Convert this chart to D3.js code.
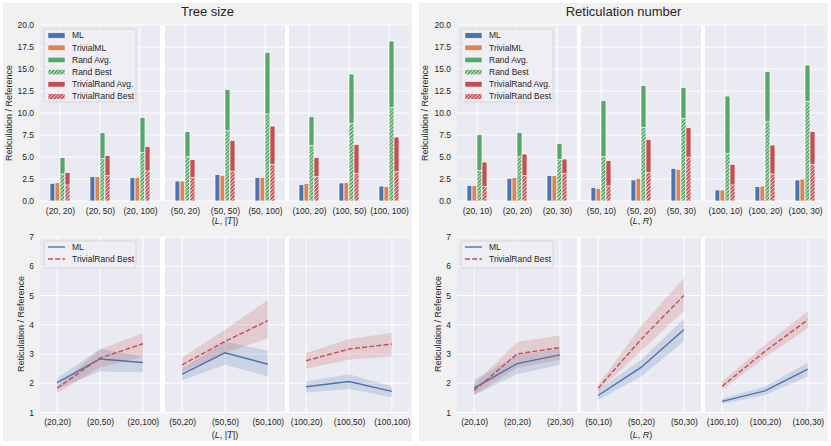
<!DOCTYPE html>
<html>
<head>
<meta charset="utf-8">
<script src="https://cdn.jsdelivr.net/npm/d3@7"></script>
<style>
  body { margin: 0; background: #fff; }
  text { font-family: "Liberation Sans", Arial, sans-serif; fill: #262626; }
  .tick text { font-size: 8.5px; fill: #262626; }
</style>
</head>
<body>
<div id="chart"></div>
<script>
// bar charts (top row)
const treeLabels = ["(20, 20)", "(20, 50)", "(20, 100)", "(50, 20)", "(50, 50)", "(50, 100)", "(100, 20)", "(100, 50)", "(100, 100)"];
const treeML = [2.01, 2.76, 2.65, 2.27, 2.99, 2.65, 1.85, 2.05, 1.70];
const treeTrivialML = [2.08, 2.76, 2.69, 2.27, 2.92, 2.69, 2.01, 2.08, 1.63];
const treeRandAvg = [4.92, 7.76, 9.47, 7.88, 12.65, 16.9, 9.58, 14.43, 18.18];
const treeRandBest = [3.07, 4.85, 5.49, 5.03, 7.99, 9.89, 6.33, 8.83, 10.65];
const treeTrivialRandAvg = [3.26, 5.15, 6.17, 4.69, 6.85, 8.52, 4.92, 6.4, 7.27];
const treeTrivialRandBest = [1.82, 2.88, 3.41, 2.69, 3.38, 4.17, 2.76, 3.15, 3.33];

const reticLabels = ["(20, 10)", "(20, 20)", "(20, 30)", "(50, 10)", "(50, 20)", "(50, 30)", "(100, 10)", "(100, 20)", "(100, 30)"];
const reticML = [1.74, 2.58, 2.88, 1.52, 2.39, 3.71, 1.25, 1.63, 2.39];
const reticTrivialML = [1.74, 2.65, 2.88, 1.44, 2.58, 3.6, 1.25, 1.7, 2.5];
const reticRandAvg = [7.53, 7.8, 6.55, 11.4, 13.1, 12.9, 11.93, 14.7, 15.45];
const reticRandBest = [3.45, 5.03, 4.73, 5.03, 8.37, 9.4, 5.42, 9.0, 11.3];
const reticTrivialRandAvg = [4.43, 5.34, 4.77, 4.58, 7.0, 8.33, 4.17, 6.36, 7.88];
const reticTrivialRandBest = [1.63, 2.88, 3.14, 1.7, 3.22, 4.97, 1.82, 3.07, 4.17];

// line charts (bottom row)
const treeLineLabels = ["(20,20)", "(20,50)", "(20,100)", "(50,20)", "(50,50)", "(50,100)", "(100,20)", "(100,50)", "(100,100)"];
const treeLineML = [2.02, 2.83, 2.71, 2.31, 3.04, 2.65, 1.88, 2.06, 1.72];
const treeLineMLLow = [1.82, 2.4, 2.38, 2.1, 2.63, 2.23, 1.68, 1.8, 1.52];
const treeLineMLHigh = [2.17, 3.17, 2.92, 2.5, 3.43, 3.11, 2.06, 2.31, 1.89];
const treeLineTR = [1.83, 2.86, 3.35, 2.63, 3.43, 4.14, 2.77, 3.17, 3.34];
const treeLineTRLow = [1.66, 2.55, 2.9, 2.4, 3.03, 3.54, 2.5, 2.8, 2.92];
const treeLineTRHigh = [1.9, 3.15, 3.72, 2.88, 3.83, 4.85, 3.03, 3.51, 3.72];

const reticLineLabels = ["(20,10)", "(20,20)", "(20,30)", "(50,10)", "(50,20)", "(50,30)", "(100,10)", "(100,20)", "(100,30)"];
const reticLineML = [1.83, 2.67, 2.97, 1.58, 2.54, 3.83, 1.38, 1.74, 2.48];
const reticLineMLLow = [1.6, 2.31, 2.63, 1.43, 2.23, 3.43, 1.3, 1.6, 2.23];
const reticLineMLHigh = [2.12, 2.97, 3.18, 1.77, 2.8, 4.2, 1.47, 1.89, 2.71];
const reticLineTR = [1.75, 3.0, 3.22, 1.83, 3.5, 5.0, 1.9, 3.09, 4.17];
const reticLineTRLow = [1.6, 2.52, 2.8, 1.72, 3.1, 4.48, 1.77, 2.88, 3.89];
const reticLineTRHigh = [1.95, 3.41, 3.63, 1.95, 3.95, 5.6, 2.06, 3.32, 4.46];

const barTicks = [0, 2.5, 5, 7.5, 10, 12.5, 15, 17.5, 20];
const lineTicks = [1, 2, 3, 4, 5, 6, 7];

const blue = "#4c72b0", orange = "#dd8452", green = "#55a868", red = "#c44e52";

const W = 831, H = 446;
const svg = d3.select("#chart").append("svg")
  .attr("width", W).attr("height", H);

// hatch patterns
const defs = svg.append("defs");
[["hatch-green", green], ["hatch-red", red]].forEach(([id, c]) => {
  const p = defs.append("pattern")
    .attr("id", id)
    .attr("patternUnits", "userSpaceOnUse")
    .attr("width", 3.6).attr("height", 3.6);
  p.append("rect").attr("width", 3.6).attr("height", 3.6).attr("fill", c);
  p.append("path")
    .attr("d", "M-0.9,0.9 l1.8,-1.8 M0,3.6 l3.6,-3.6 M2.7,4.5 l1.8,-1.8")
    .attr("stroke", "#fff").attr("stroke-width", 0.9);
});

const yTop = d3.scaleLinear().domain([0, 20]).range([201, 25]);
const yBot = d3.scaleLinear().domain([1, 7]).range([412.5, 237]);

const panels = [
  {
    bx: 3, bw: 409, title: "Tree size", x0s: [40, 165, 289],
    labels: treeLabels,
    bars: [treeML, treeTrivialML, treeRandAvg, treeRandBest, treeTrivialRandAvg, treeTrivialRandBest],
    lineLabels: treeLineLabels,
    ml: [treeLineML, treeLineMLLow, treeLineMLHigh],
    tr: [treeLineTR, treeLineTRLow, treeLineTRHigh],
    xlab: "T", ylabTop: 9, ylabBot: 21
  },
  {
    bx: 419, bw: 409, title: "Reticulation number", x0s: [457, 581, 705],
    labels: reticLabels,
    bars: [reticML, reticTrivialML, reticRandAvg, reticRandBest, reticTrivialRandAvg, reticTrivialRandBest],
    lineLabels: reticLineLabels,
    ml: [reticLineML, reticLineMLLow, reticLineMLHigh],
    tr: [reticLineTR, reticLineTRLow, reticLineTRHigh],
    xlab: "R", ylabTop: 425, ylabBot: 438
  }
];
const aw = 120;

function xLabel(g, x, y, kind) {
  const t = g.append("text").attr("x", x).attr("y", y)
    .attr("text-anchor", "middle").attr("font-size", "9px");
  t.append("tspan").text("(");
  t.append("tspan").attr("font-style", "italic").text("L");
  if (kind === "T") {
    t.append("tspan").text(", |");
    t.append("tspan").attr("font-style", "italic").attr("font-family", "DejaVu Serif, serif").text("T");
    t.append("tspan").text("|)");
  } else {
    t.append("tspan").text(", ");
    t.append("tspan").attr("font-style", "italic").text("R");
    t.append("tspan").text(")");
  }
}

function yLabel(g, x, y) {
  g.append("text")
    .attr("transform", `translate(${x},${y}) rotate(-90)`)
    .attr("text-anchor", "middle").attr("dy", "0.35em")
    .attr("font-size", "9px")
    .text("Reticulation / Reference");
}

panels.forEach(p => {
  const g = svg.append("g");
  g.append("rect").attr("x", p.bx).attr("y", 3).attr("width", p.bw).attr("height", 438)
    .attr("fill", "#f1f1f1");
  g.append("text").attr("x", p.bx + p.bw / 2).attr("y", 15.5)
    .attr("text-anchor", "middle").attr("font-size", "13px").text(p.title);

  // ---------- bars ----------
  g.append("rect").attr("x", p.x0s[0]).attr("y", 25)
    .attr("width", p.x0s[2] + aw - p.x0s[0]).attr("height", 176).attr("fill", "#fff");
  p.x0s.forEach((x0, i) => {
    const cats = p.labels.slice(i * 3, i * 3 + 3);
    const x = d3.scalePoint().domain(cats).range([x0, x0 + aw]).padding(0.5);
    const bw = x.step() * 0.125;
    const sub = g.append("g");
    sub.append("rect").attr("x", x0).attr("y", 25).attr("width", aw).attr("height", 176)
      .attr("fill", "#eaeaf2");
    barTicks.forEach(t => sub.append("line")
      .attr("x1", x0).attr("x2", x0 + aw).attr("y1", yTop(t)).attr("y2", yTop(t))
      .attr("stroke", "#fff").attr("stroke-width", 1));
    cats.forEach(c => sub.append("line")
      .attr("x1", x(c)).attr("x2", x(c)).attr("y1", 25).attr("y2", 201)
      .attr("stroke", "#fff").attr("stroke-width", 1));

    const series = [
      { v: p.bars[0], k: 0, fill: blue },
      { v: p.bars[1], k: 1, fill: orange },
      { v: p.bars[2], k: 2, fill: green },
      { v: p.bars[3], k: 2, fill: "url(#hatch-green)" },
      { v: p.bars[4], k: 3, fill: red },
      { v: p.bars[5], k: 3, fill: "url(#hatch-red)" }
    ];
    series.forEach(s => {
      sub.selectAll(null).data(cats.map((c, j) => ({ c, v: s.v[i * 3 + j] })))
        .join("rect")
        .attr("x", d => x(d.c) + (s.k - 2) * bw)
        .attr("y", d => yTop(d.v))
        .attr("width", bw)
        .attr("height", d => yTop(0) - yTop(d.v))
        .attr("fill", s.fill)
        .attr("stroke", "#fff").attr("stroke-width", 0.7);
    });

    sub.append("g").attr("transform", `translate(0,201)`)
      .call(d3.axisBottom(x).tickSize(0).tickPadding(6.5))
      .call(a => a.select(".domain").remove());
    if (i === 0) {
      sub.append("g").attr("transform", `translate(${x0},0)`)
        .call(d3.axisLeft(yTop).tickValues(barTicks).tickFormat(d3.format(".1f")).tickSize(0).tickPadding(6))
        .call(a => a.select(".domain").remove());
    }
    if (i === 1) xLabel(g, x(cats[1]), 224, p.xlab);
  });
  yLabel(g, p.ylabTop, 113);

  // bar legend
  const lx = p.x0s[0] + 4;
  const leg = g.append("g");
  leg.append("rect").attr("x", lx).attr("y", 29).attr("width", 92).attr("height", 73)
    .attr("rx", 2.5).attr("fill", "#eeeef4").attr("fill-opacity", 0.9)
    .attr("stroke", "#d0d0d0").attr("stroke-width", 0.8);
  const legItems = [["ML", blue], ["TrivialML", orange], ["Rand Avg.", green],
    ["Rand Best", "url(#hatch-green)"], ["TrivialRand Avg.", red], ["TrivialRand Best", "url(#hatch-red)"]];
  legItems.forEach(([name, fill], j) => {
    const cy = 35.5 + j * 12.2;
    leg.append("rect").attr("x", lx + 4).attr("y", cy - 2.7).attr("width", 17).attr("height", 5.4)
      .attr("fill", fill).attr("stroke", "#fff").attr("stroke-width", 0.5);
    leg.append("text").attr("x", lx + 28).attr("y", cy).attr("dy", "0.35em")
      .attr("font-size", "8.5px").text(name);
  });

  // ---------- lines ----------
  g.append("rect").attr("x", p.x0s[0]).attr("y", 237)
    .attr("width", p.x0s[2] + aw - p.x0s[0]).attr("height", 175.5).attr("fill", "#fff");
  p.x0s.forEach((x0, i) => {
    const cats = p.lineLabels.slice(i * 3, i * 3 + 3);
    const x = d3.scalePoint().domain(cats).range([x0, x0 + aw]).padding(0.4);
    const sub = g.append("g");
    sub.append("rect").attr("x", x0).attr("y", 237).attr("width", aw).attr("height", 175.5)
      .attr("fill", "#eaeaf2");
    lineTicks.forEach(t => sub.append("line")
      .attr("x1", x0).attr("x2", x0 + aw).attr("y1", yBot(t)).attr("y2", yBot(t))
      .attr("stroke", "#fff").attr("stroke-width", 1));
    cats.forEach(c => sub.append("line")
      .attr("x1", x(c)).attr("x2", x(c)).attr("y1", 237).attr("y2", 412.5)
      .attr("stroke", "#fff").attr("stroke-width", 1));

    const mk = arr => cats.map((c, j) => ({ c, v: arr[0][i * 3 + j], lo: arr[1][i * 3 + j], hi: arr[2][i * 3 + j] }));
    const area = d3.area().x(d => x(d.c)).y0(d => yBot(d.lo)).y1(d => yBot(d.hi));
    const line = d3.line().x(d => x(d.c)).y(d => yBot(d.v));
    [[p.ml, blue, null], [p.tr, red, "5,2.2"]].forEach(([arr, c]) => {
      sub.append("path").datum(mk(arr)).attr("d", area).attr("fill", c).attr("fill-opacity", 0.2);
    });
    [[p.ml, blue, null], [p.tr, red, "5,2.2"]].forEach(([arr, c, dash]) => {
      sub.append("path").datum(mk(arr)).attr("d", line).attr("fill", "none")
        .attr("stroke", c).attr("stroke-width", 1.4)
        .attr("stroke-dasharray", dash);
    });

    sub.append("g").attr("transform", `translate(0,412.5)`)
      .call(d3.axisBottom(x).tickSize(0).tickPadding(6.5))
      .call(a => a.select(".domain").remove());
    if (i === 0) {
      sub.append("g").attr("transform", `translate(${x0},0)`)
        .call(d3.axisLeft(yBot).tickValues(lineTicks).tickFormat(d3.format("d")).tickSize(0).tickPadding(6))
        .call(a => a.select(".domain").remove());
    }
    if (i === 1) xLabel(g, x(cats[1]), 437.5, p.xlab);
  });
  yLabel(g, p.ylabBot, 324);

  // line legend
  const leg2 = g.append("g");
  leg2.append("rect").attr("x", lx).attr("y", 241).attr("width", 92).attr("height", 27)
    .attr("rx", 2.5).attr("fill", "#eeeef4").attr("fill-opacity", 0.9)
    .attr("stroke", "#d0d0d0").attr("stroke-width", 0.8);
  [["ML", blue, null], ["TrivialRand Best", red, "5,2.2"]].forEach(([name, c, dash], j) => {
    const cy = 247 + j * 12;
    leg2.append("line").attr("x1", lx + 4).attr("x2", lx + 21).attr("y1", cy).attr("y2", cy)
      .attr("stroke", c).attr("stroke-width", 1.4).attr("stroke-dasharray", dash);
    leg2.append("text").attr("x", lx + 28).attr("y", cy).attr("dy", "0.35em")
      .attr("font-size", "8.5px").text(name);
  });
});
</script>
</body>
</html>
